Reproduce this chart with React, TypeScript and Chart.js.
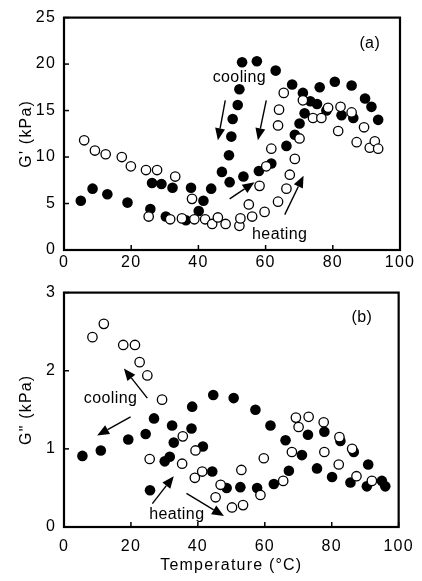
import React, { useEffect, useRef } from "react";
import { Chart, registerables } from "chart.js";

Chart.register(...registerables);

// ---------- data ----------
const xTicks = [0, 20, 40, 60, 80, 100];
const gPrimeTicks = [0, 5, 10, 15, 20, 25];
const gDoublePrimeTicks = [0, 1, 2, 3];

// G' (kPa) – filled circles
const gpFilledT = [5.0, 8.5, 12.9, 18.9, 25.7, 26.2, 29.0, 30.3, 32.3, 36.3, 37.8, 40.1, 41.5, 43.8, 47.0, 49.1, 49.3, 49.8, 50.2, 51.7, 52.2, 53.0, 53.4, 57.4, 58.0, 61.7, 63.0, 66.2, 67.9, 68.7, 70.1, 71.1, 71.6, 73.3, 75.3, 76.1, 78.1, 80.6, 82.6, 85.6, 86.1, 89.6, 91.5, 93.5];
const gpFilledV = [5.3, 6.6, 6.0, 5.1, 4.4, 7.2, 7.1, 3.6, 6.7, 3.2, 6.7, 4.2, 5.3, 6.6, 8.4, 10.2, 7.3, 12.2, 14.1, 15.6, 17.3, 20.2, 7.9, 20.3, 8.5, 9.3, 19.3, 11.2, 17.8, 12.4, 13.6, 16.9, 14.7, 16.0, 15.7, 17.5, 15.0, 18.1, 14.5, 17.7, 14.2, 16.3, 15.4, 14.0];

// G' (kPa) – open circles
const gpOpenT = [6.0, 9.2, 12.4, 17.2, 19.9, 24.4, 27.7, 33.1, 38.1, 25.2, 31.6, 35.1, 38.8, 42.0, 44.1, 45.8, 48.1, 52.2, 52.5, 55.0, 56.0, 58.2, 59.7, 60.2, 61.7, 63.7, 63.7, 64.0, 65.4, 66.2, 67.2, 68.7, 70.1, 71.1, 74.1, 76.6, 78.6, 81.6, 82.3, 85.6, 87.1, 89.3, 91.0, 92.5, 93.5];
const gpOpenV = [11.8, 10.7, 10.3, 10.0, 9.0, 8.6, 8.6, 7.9, 5.5, 3.6, 3.3, 3.4, 3.3, 3.3, 2.8, 3.5, 2.8, 2.6, 3.4, 4.9, 3.6, 6.9, 4.1, 9.0, 10.9, 5.2, 13.4, 15.1, 16.9, 6.6, 8.1, 9.8, 12.0, 16.1, 14.2, 14.2, 15.3, 12.8, 15.4, 14.8, 11.6, 13.2, 11.0, 11.7, 10.9];

// G" (kPa) – filled circles
const gdpFilledT = [5.5, 11.0, 19.2, 24.4, 25.7, 26.9, 30.1, 31.6, 32.3, 32.8, 38.1, 38.3, 41.5, 44.3, 44.6, 48.6, 50.7, 52.7, 57.2, 57.7, 61.7, 62.7, 66.2, 67.2, 71.1, 72.9, 75.6, 77.8, 80.1, 82.6, 85.6, 86.6, 90.5, 90.9, 95.0, 96.0];
const gdpFilledV = [0.91, 0.98, 1.12, 1.19, 0.47, 1.39, 0.84, 0.90, 1.30, 1.08, 1.26, 1.54, 1.03, 0.71, 1.69, 0.50, 1.65, 0.51, 1.50, 0.50, 1.30, 0.55, 1.11, 0.72, 0.92, 1.18, 0.75, 1.22, 0.64, 1.10, 0.57, 0.96, 0.52, 0.80, 0.59, 0.52];

// G" (kPa) – open circles
const gdpOpenT = [8.5, 11.9, 17.7, 21.2, 22.6, 24.9, 29.3, 25.6, 35.3, 35.5, 39.1, 39.3, 41.3, 45.3, 46.8, 50.2, 53.0, 53.5, 58.7, 59.7, 65.5, 68.1, 69.3, 70.1, 73.1, 77.6, 77.8, 82.1, 82.3, 86.1, 87.4, 92.0];
const gdpOpenV = [2.43, 2.60, 2.33, 2.33, 2.11, 1.94, 1.63, 0.87, 0.81, 1.16, 0.63, 0.98, 0.71, 0.38, 0.54, 0.25, 0.73, 0.28, 0.41, 0.88, 0.59, 0.96, 1.40, 1.28, 1.41, 1.34, 0.96, 0.80, 1.15, 1.00, 0.65, 0.59];

// ---------- annotations (data units) ----------
type Label = { text: string; x: number; y: number };
type Arrow = [number, number, number, number];

const labelsA: Label[] = [
  { text: "(a)", x: 91.0, y: 22.2 },
  { text: "cooling", x: 52.2, y: 18.5 },
  { text: "heating", x: 64.2, y: 1.67 },
];
const arrowsA: Arrow[] = [
  [48.0, 16.1, 45.8, 11.8],
  [60.2, 16.1, 57.7, 11.8],
  [49.3, 5.5, 56.7, 7.3],
  [65.7, 3.8, 71.3, 8.0],
];
const labelsB: Label[] = [
  { text: "(b)", x: 89.0, y: 2.68 },
  { text: "cooling", x: 13.9, y: 1.64 },
  { text: "heating", x: 33.7, y: 0.16 },
];
const arrowsB: Arrow[] = [
  [24.9, 1.65, 17.9, 2.03],
  [19.9, 1.41, 9.9, 1.17],
  [26.4, 0.30, 32.8, 0.65],
  [36.6, 0.43, 47.8, 0.14],
];

const FONT = "'Liberation Sans', Arial, Helvetica, sans-serif";
const FS = 16;

function pts(t: number[], v: number[]) {
  return t.map((x, i) => ({ x, y: v[i] }));
}

type PanelProps = {
  top: number;
  height: number;
  axisHeight: number;
  tickPad: number;
  filledT: number[];
  filledV: number[];
  openT: number[];
  openV: number[];
  yMax: number;
  yTickVals: number[];
  yTitle: string;
  xTitle?: string;
  labels: Label[];
  arrows: Arrow[];
};

function Panel(p: PanelProps) {
  const ref = useRef<HTMLCanvasElement | null>(null);
  useEffect(() => {
    if (!ref.current) return;
    const frame = {
      id: "frame",
      beforeDraw(chart: any) {
        (chart.ctx as any).letterSpacing = "1.2px";
      },
      beforeDatasetsDraw(chart: any) {
        const { ctx, chartArea } = chart;
        const { left, top, right, bottom } = chartArea;
        ctx.save();
        ctx.strokeStyle = "#000";
        ctx.lineWidth = 2.2;
        ctx.strokeRect(left, top, right - left, bottom - top);
        ctx.lineWidth = 1.5;
        const xs = chart.scales.x;
        const ys = chart.scales.y;
        xs.ticks.forEach((t: any) => {
          const px = xs.getPixelForValue(t.value);
          ctx.beginPath();
          ctx.moveTo(px, bottom);
          ctx.lineTo(px, bottom - 5);
          ctx.stroke();
        });
        ys.ticks.forEach((t: any) => {
          const py = ys.getPixelForValue(t.value);
          ctx.beginPath();
          ctx.moveTo(left, py);
          ctx.lineTo(left + 5, py);
          ctx.stroke();
        });
        ctx.restore();
      },
      afterDatasetsDraw(chart: any) {
        const { ctx } = chart;
        const xs = chart.scales.x;
        const ys = chart.scales.y;
        ctx.save();
        (ctx as any).letterSpacing = "0.4px";
        ctx.fillStyle = "#000";
        ctx.strokeStyle = "#000";
        ctx.font = `${FS}px ${FONT}`;
        ctx.textAlign = "center";
        ctx.textBaseline = "middle";
        p.labels.forEach((l) => {
          ctx.fillText(l.text, xs.getPixelForValue(l.x), ys.getPixelForValue(l.y));
        });
        ctx.lineWidth = 1.4;
        p.arrows.forEach(([x1, y1, x2, y2]) => {
          const ax = xs.getPixelForValue(x1);
          const ay = ys.getPixelForValue(y1);
          const bx = xs.getPixelForValue(x2);
          const by = ys.getPixelForValue(y2);
          const ang = Math.atan2(by - ay, bx - ax);
          const hl = 12;
          const hw = 5;
          const baseX = bx - hl * Math.cos(ang);
          const baseY = by - hl * Math.sin(ang);
          ctx.beginPath();
          ctx.moveTo(ax, ay);
          ctx.lineTo(baseX, baseY);
          ctx.stroke();
          ctx.beginPath();
          ctx.moveTo(bx, by);
          ctx.lineTo(baseX + hw * Math.sin(ang), baseY - hw * Math.cos(ang));
          ctx.lineTo(baseX - hw * Math.sin(ang), baseY + hw * Math.cos(ang));
          ctx.closePath();
          ctx.fill();
        });
        ctx.restore();
      },
    };

    const chart = new Chart(ref.current, {
      type: "scatter",
      data: {
        datasets: [
          {
            label: "open",
            data: pts(p.openT, p.openV),
            pointRadius: 4.7,
            pointBorderWidth: 1.3,
            pointBackgroundColor: "#fff",
            pointBorderColor: "#000",
            clip: false,
          } as any,
          {
            label: "filled",
            data: pts(p.filledT, p.filledV),
            pointRadius: 5.3,
            pointBorderWidth: 0,
            pointBackgroundColor: "#000",
            pointBorderColor: "#000",
            clip: false,
          } as any,
        ],
      },
      options: {
        animation: false,
        responsive: false,
        devicePixelRatio: 1,
        layout: { padding: { left: 0, right: 22, top: 10, bottom: 0 } },
        plugins: { legend: { display: false }, tooltip: { enabled: false } },
        scales: {
          x: {
            type: "linear",
            min: 0,
            max: 100,
            grid: { display: false, drawTicks: false },
            border: { display: false },
            ticks: { color: "#000", font: { family: FONT, size: FS }, padding: p.tickPad },
            afterBuildTicks: (s: any) => {
              s.ticks = xTicks.map((v) => ({ value: v }));
            },
            afterFit: (s: any) => {
              s.height = p.axisHeight;
            },
            title: p.xTitle
              ? {
                  display: true,
                  text: p.xTitle,
                  color: "#000",
                  font: { family: FONT, size: FS },
                  padding: { top: 0, bottom: 6 },
                }
              : { display: false },
          },
          y: {
            type: "linear",
            min: 0,
            max: p.yMax,
            grid: { display: false, drawTicks: false },
            border: { display: false },
            ticks: { color: "#000", font: { family: FONT, size: FS }, padding: 8 },
            afterBuildTicks: (s: any) => {
              s.ticks = p.yTickVals.map((v) => ({ value: v }));
            },
            afterFit: (s: any) => {
              s.width = 64;
            },
            title: {
              display: true,
              text: p.yTitle,
              color: "#000",
              font: { family: FONT, size: FS },
              padding: { top: 17, bottom: 0 },
            },
          },
        },
      } as any,
      plugins: [frame],
    });
    return () => chart.destroy();
  }, []);
  return (
    <canvas
      ref={ref}
      width={422}
      height={p.height}
      style={{ position: "absolute", left: 0, top: p.top, width: 422, height: p.height }}
    />
  );
}

export default function App() {
  return (
    <div style={{ position: "absolute", left: 0, top: 0, width: 422, height: 581, background: "#fff" }}>
      <Panel
        top={0}
        height={280}
        axisHeight={30}
        tickPad={3}
        filledT={gpFilledT}
        filledV={gpFilledV}
        openT={gpOpenT}
        openV={gpOpenV}
        yMax={25}
        yTickVals={gPrimeTicks}
        yTitle="G' (kPa)"
        labels={labelsA}
        arrows={arrowsA}
      />
      <Panel
        top={275}
        height={306}
        axisHeight={54}
        tickPad={10}
        filledT={gdpFilledT}
        filledV={gdpFilledV}
        openT={gdpOpenT}
        openV={gdpOpenV}
        yMax={3}
        yTickVals={gDoublePrimeTicks}
        yTitle={'G" (kPa)'}
        xTitle="Temperature (°C)"
        labels={labelsB}
        arrows={arrowsB}
      />
    </div>
  );
}
